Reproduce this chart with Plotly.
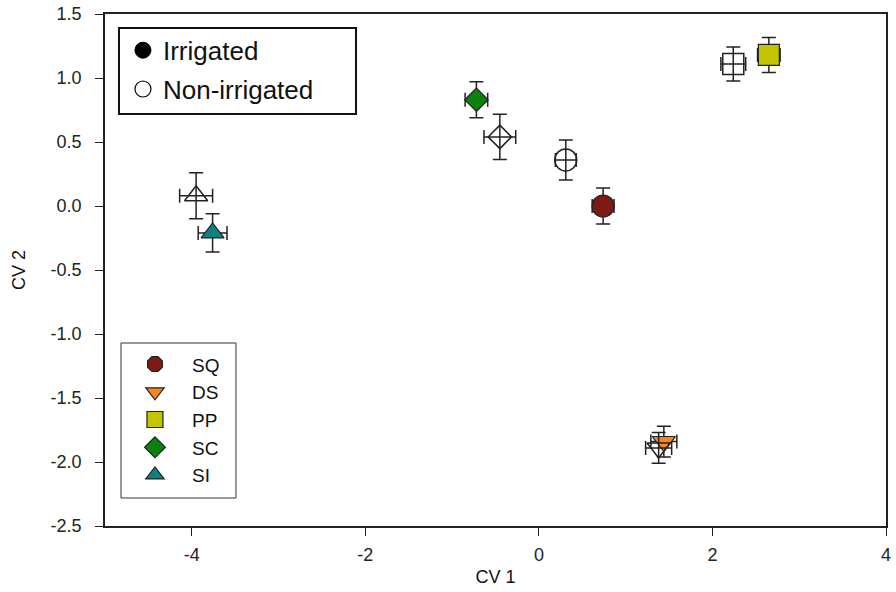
import plotly.graph_objects as go

groups = ["SQ", "DS", "PP", "SC", "SI"]
colors = ["#7E1A14", "#F7861F", "#C3C300", "#0B820B", "#0F8080"]
symbols = ["circle", "triangle-down", "square", "diamond", "triangle-up"]
legend_symbols = ["octagon", "triangle-down", "square", "diamond", "triangle-up"]
sizes = [22, 20, 21, 18, 20]

# Irrigated (filled)
irr_x = [0.74, 1.44, 2.65, -0.72, -3.76]
irr_y = [0.00, -1.84, 1.18, 0.83, -0.21]
irr_xerr = [0.126, 0.15, 0.13, 0.13, 0.166]
irr_yerr = [0.14, 0.12, 0.137, 0.14, 0.15]

# Non-irrigated (open)
non_x = [0.31, 1.38, 2.24, -0.45, -3.95]
non_y = [0.36, -1.89, 1.11, 0.54, 0.08]
non_xerr = [0.12, 0.15, 0.143, 0.183, 0.19]
non_yerr = [0.156, 0.12, 0.133, 0.176, 0.18]

x_ticks = [-4, -2, 0, 2, 4]
x_ticktext = ["-4", "-2", "0", "2", "4"]
y_ticks = [1.5, 1.0, 0.5, 0.0, -0.5, -1.0, -1.5, -2.0, -2.5]
y_ticktext = ["1.5", "1.0", "0.5", "0.0", "-0.5", "-1.0", "-1.5", "-2.0", "-2.5"]

ebar = dict(type="data", color="#222222", thickness=1.5, width=7)

fig = go.Figure()

for i, g in enumerate(groups):
    fig.add_trace(go.Scatter(
        x=[irr_x[i]], y=[irr_y[i]], mode="markers", showlegend=False,
        marker=dict(symbol=symbols[i], size=sizes[i], color=colors[i],
                    line=dict(color="#222222", width=1.2)),
        error_x=dict(array=[irr_xerr[i]], **ebar),
        error_y=dict(array=[irr_yerr[i]], **ebar),
    ))

for i, g in enumerate(groups):
    fig.add_trace(go.Scatter(
        x=[non_x[i]], y=[non_y[i]], mode="markers", showlegend=False,
        marker=dict(symbol=symbols[i], size=sizes[i], color="rgba(0,0,0,0)",
                    line=dict(color="#222222", width=1.5)),
        error_x=dict(array=[non_xerr[i]], **ebar),
        error_y=dict(array=[non_yerr[i]], **ebar),
    ))

# Legend 1: treatment
fig.add_trace(go.Scatter(
    x=[None], y=[None], mode="markers", name="Irrigated", legend="legend",
    legendgroup="a",
    marker=dict(symbol="circle", size=16, color="black", line=dict(color="black", width=1))))
fig.add_trace(go.Scatter(
    x=[None], y=[None], mode="markers", name="Non-irrigated", legend="legend",
    legendgroup="b",
    marker=dict(symbol="circle", size=16, color="white", line=dict(color="black", width=1.2))))

# Legend 2: sites
for i, g in enumerate(groups):
    fig.add_trace(go.Scatter(
        x=[None], y=[None], mode="markers", name=g, legend="legend2",
        marker=dict(symbol=legend_symbols[i], size=16, color=colors[i],
                    line=dict(color="#222222", width=1.2))))

axis_common = dict(showline=True, linecolor="#222222", linewidth=1.5, mirror=True,
                   ticks="outside", ticklen=8, tickwidth=1.2, tickcolor="#222222",
                   showgrid=False, zeroline=False, automargin=False,
                   tickfont=dict(size=18, color="#222222"))

fig.update_layout(
    width=896, height=592,
    margin=dict(l=105, r=10, t=14, b=66),
    paper_bgcolor="white", plot_bgcolor="white",
    font=dict(family="Liberation Sans, Arial, sans-serif", color="#111111"),
    xaxis=dict(range=[-5, 4], tickvals=x_ticks, ticktext=x_ticktext,
               ticklabelstandoff=4,
               title=dict(text="CV 1", font=dict(size=18), standoff=6), **axis_common),
    yaxis=dict(range=[-2.5, 1.5], tickvals=y_ticks, ticktext=y_ticktext,
               ticklabelstandoff=10,
               title=dict(text="CV 2", font=dict(size=18), standoff=20), **axis_common),
    shapes=[
        dict(type="rect", xref="paper", yref="paper", x0=0.0179, x1=0.3214,
             y0=0.8047, y1=0.9727, line=dict(color="#111111", width=2),
             fillcolor="white", layer="below"),
        dict(type="rect", xref="paper", yref="paper", x0=0.0205, x1=0.1677,
             y0=0.0547, y1=0.3574, line=dict(color="#333333", width=1),
             fillcolor="white", layer="below"),
    ],
    legend=dict(x=0.023, y=0.975, xanchor="left", yanchor="top",
                borderwidth=0, bgcolor="rgba(0,0,0,0)",
                font=dict(size=26, color="#111111"), tracegroupgap=2,
                itemsizing="trace"),
    legend2=dict(x=0.0166, y=0.353, xanchor="left", yanchor="top",
                 borderwidth=0, bgcolor="rgba(0,0,0,0)",
                 font=dict(size=19, color="#111111"),
                 itemsizing="trace", itemwidth=64),
)

fig.write_html(
    "out.html",
    config={"displayModeBar": False},
    post_script="document.body.style.margin='0px'; document.body.style.overflow='hidden';",
)
